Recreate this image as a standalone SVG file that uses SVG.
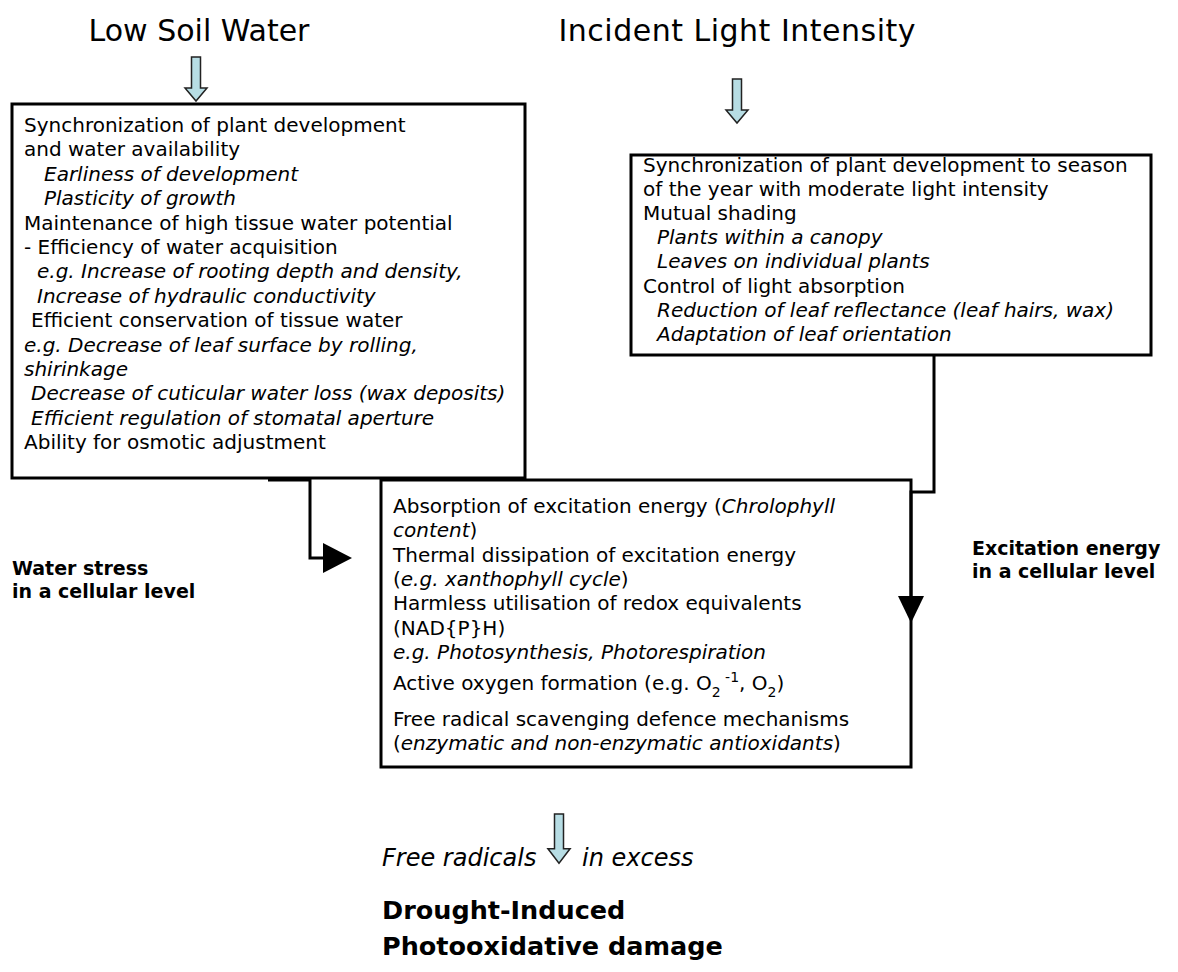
<svg xmlns="http://www.w3.org/2000/svg" width="1178" height="972" viewBox="0 0 1178 972">
<style>
text{font-family:"DejaVu Sans",Verdana,sans-serif;fill:#000}
.t{font-size:20px}
.i{font-style:italic}
.title{font-size:30px}
.lbl{font-size:19px;font-weight:bold}
.fr{font-size:24px;font-style:italic}
.big{font-size:25.5px;font-weight:bold}
.box{fill:#fff;stroke:#000;stroke-width:3}
.conn{fill:none;stroke:#000;stroke-width:3}
.barrow{fill:#b7dde4;stroke:#222;stroke-width:1.5;stroke-linejoin:miter}
</style>
<defs>
<path id="ba" d="M-4.5,0 H4.5 V31 H11 L0,44 L-11,31 H-4.5 Z"/>
</defs>
<rect width="1178" height="972" fill="#fff"/>

<g id="title-soil">
<text class="title" x="199" y="41" text-anchor="middle">Low Soil Water</text>
<use href="#ba" x="196" y="57" class="barrow"/>
</g>

<g id="title-light">
<text class="title" x="737" y="41" text-anchor="middle" textLength="357">Incident Light Intensity</text>
<use href="#ba" x="737" y="79" class="barrow"/>
</g>

<g id="box-water">
<rect class="box" x="12" y="104" width="513" height="374"/>
<text class="t" x="24" y="132">Synchronization of plant development</text>
<text class="t" x="24" y="156.4">and water availability</text>
<text class="t i" x="44" y="180.8">Earliness of development</text>
<text class="t i" x="44" y="205.2">Plasticity of growth</text>
<text class="t" x="24" y="229.6">Maintenance of high tissue water potential</text>
<text class="t" x="24" y="254">- Efficiency of water acquisition</text>
<text class="t i" x="37" y="278.4">e.g. Increase of rooting depth and density,</text>
<text class="t i" x="37" y="302.8">Increase of hydraulic conductivity</text>
<text class="t" x="31" y="327.2">Efficient conservation of tissue water</text>
<text class="t i" x="24" y="351.6">e.g. Decrease of leaf surface by rolling,</text>
<text class="t i" x="24" y="376">shirinkage</text>
<text class="t i" x="31" y="400.4">Decrease of cuticular water loss (wax deposits)</text>
<text class="t i" x="31" y="424.8">Efficient regulation of stomatal aperture</text>
<text class="t" x="24" y="449.2">Ability for osmotic adjustment</text>
</g>

<g id="box-light">
<rect class="box" x="631" y="155" width="520" height="200"/>
<text class="t" x="643" y="172">Synchronization of plant development to season</text>
<text class="t" x="643" y="196">of the year with moderate light intensity</text>
<text class="t" x="643" y="220.2">Mutual shading</text>
<text class="t i" x="657" y="244.3">Plants within a canopy</text>
<text class="t i" x="657" y="268.4">Leaves on individual plants</text>
<text class="t" x="643" y="292.5">Control of light absorption</text>
<text class="t i" x="657" y="316.6">Reduction of leaf reflectance (leaf hairs, wax)</text>
<text class="t i" x="657" y="340.7">Adaptation of leaf orientation</text>
</g>

<g id="box-cell">
<rect class="box" x="381" y="480" width="530" height="287"/>
<text class="t" x="393" y="513">Absorption of excitation energy (<tspan class="i">Chrolophyll</tspan></text>
<text class="t" x="393" y="537.3"><tspan class="i">content</tspan>)</text>
<text class="t" x="393" y="561.6">Thermal dissipation of excitation energy</text>
<text class="t" x="393" y="585.9">(<tspan class="i">e.g. xanthophyll cycle</tspan>)</text>
<text class="t" x="393" y="610.2">Harmless utilisation of redox equivalents</text>
<text class="t" x="393" y="634.5">(NAD{P}H)</text>
<text class="t i" x="393" y="658.8">e.g. Photosynthesis, Photorespiration</text>
<text class="t" x="393" y="690">Active oxygen formation (e.g. O<tspan font-size="14" dy="7">2</tspan><tspan font-size="14" dy="-15"> -1</tspan><tspan dy="8">, O</tspan><tspan font-size="14" dy="7">2</tspan><tspan dy="-7">)</tspan></text>
<text class="t" x="393" y="725.5">Free radical scavenging defence mechanisms</text>
<text class="t" x="393" y="749.5">(<tspan class="i">enzymatic and non-enzymatic antioxidants</tspan>)</text>
</g>

<g id="label-water">
<text class="lbl" x="12" y="575">Water stress</text>
<text class="lbl" x="12" y="598">in a cellular level</text>
</g>

<g id="label-excitation">
<text class="lbl" x="972" y="555">Excitation energy</text>
<text class="lbl" x="972" y="578">in a cellular level</text>
</g>

<g id="free-radicals">
<text class="fr" x="382" y="866">Free radicals</text>
<use href="#ba" x="0" y="0" class="barrow" transform="translate(559,814) scale(1,1.12)"/>
<text class="fr" x="582" y="866">in excess</text>
</g>

<g id="outcome">
<text class="big" x="382" y="919">Drought-Induced</text>
<text class="big" x="382" y="955">Photooxidative damage</text>
</g>

<g id="connectors">
<path class="conn" d="M268,480 H310 V558 H326"/>
<path d="M323,543 L352,558 L323,573 Z" fill="#000"/>
<path class="conn" d="M934,355 V492 H911 V600"/>
<path d="M898,596 L924,596 L911,623 Z" fill="#000"/>
</g>
</svg>
